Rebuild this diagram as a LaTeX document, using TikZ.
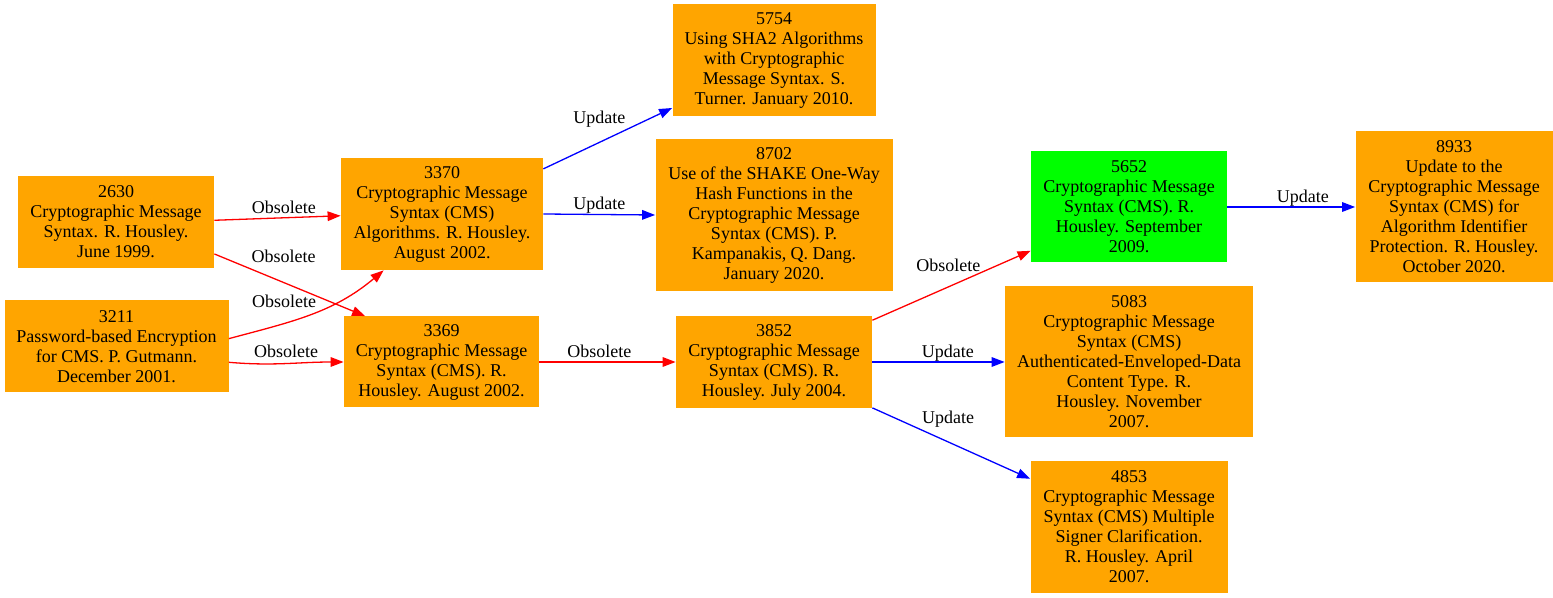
\documentclass[tikz,border=0pt]{standalone}
\usepackage{fontspec}
\setmainfont{Liberation Serif}
\usepackage{tikz}
\usetikzlibrary{arrows.meta,positioning}
\definecolor{rfcorange}{RGB}{255,165,0}
\definecolor{rfcgreen}{RGB}{0,255,0}

\tikzset{
  rfc/.style={fill=rfcorange, align=center, inner sep=0pt, font=\fontsize{9}{10}\selectfont},
  obs/.style={->, red, line width=0.65pt},
  upd/.style={->, blue, line width=0.65pt},
  lbl/.style={font=\fontsize{9}{10}\selectfont, text=black, inner sep=0pt, text height=6.2pt, text depth=2pt}
}

\begin{document}
\begin{tikzpicture}[x=0.5pt, y=-0.5pt, >={Triangle[length=6.5pt, width=4.8pt]}]
  \useasboundingbox (0,0) rectangle (1553,598);
  % left column
  \node[rfc, minimum width=98pt, minimum height=46pt] (n2630) at (116,222) {2630\\Cryptographic Message\\Syntax. R. Housley.\\June 1999.};
  \node[rfc, minimum width=112pt, minimum height=46pt] (n3211) at (116.5,346.5) {3211\\Password-based Encryption\\for CMS. P. Gutmann.\\December 2001.};
  % second column
  \node[rfc, minimum width=101pt, minimum height=56pt] (n3370) at (442,214) {3370\\Cryptographic Message\\Syntax (CMS)\\Algorithms. R. Housley.\\August 2002.};
  \node[rfc, minimum width=97.5pt, minimum height=45.5pt] (n3369) at (441.5,362) {3369\\Cryptographic Message\\Syntax (CMS). R.\\Housley. August 2002.};
  % third column
  \node[rfc, minimum width=101.5pt, minimum height=56pt] (n5754) at (774,60.5) {5754\\Using SHA2 Algorithms\\with Cryptographic\\Message Syntax. S.\\Turner. January 2010.};
  \node[rfc, minimum width=118.5pt, minimum height=76pt] (n8702) at (774,215) {8702\\Use of the SHAKE One-Way\\Hash Functions in the\\Cryptographic Message\\Syntax (CMS). P.\\Kampanakis, Q. Dang.\\January 2020.};
  \node[rfc, minimum width=98pt, minimum height=46pt] (n3852) at (774,362) {3852\\Cryptographic Message\\Syntax (CMS). R.\\Housley. July 2004.};
  % fourth column
  \node[rfc, minimum width=98pt, minimum height=55.5pt, fill=rfcgreen] (n5652) at (1129,207) {5652\\Cryptographic Message\\Syntax (CMS). R.\\Housley. September\\2009.};
  \node[rfc, minimum width=124pt, minimum height=75.5pt] (n5083) at (1129,362) {5083\\Cryptographic Message\\Syntax (CMS)\\Authenticated-Enveloped-Data\\Content Type. R.\\Housley. November\\2007.};
  \node[rfc, minimum width=98.5pt, minimum height=66pt] (n4853) at (1129,527) {4853\\Cryptographic Message\\Syntax (CMS) Multiple\\Signer Clarification.\\R. Housley. April\\2007.};
  % last column
  \node[rfc, minimum width=98.5pt, minimum height=75.5pt] (n8933) at (1454,207) {8933\\Update to the\\Cryptographic Message\\Syntax (CMS) for\\Algorithm Identifier\\Protection. R. Housley.\\October 2020.};

  % edges
  \draw[obs] (n2630.1) -- (n3370.181) node[lbl, pos=0.55, above] (l1) {Obsolete};
  \draw[obs] (n2630.-18) -- (n3369.149) node[lbl, pos=0.46, above=7.9pt] (l2) {Obsolete};
  \draw[obs] (n3211.4) to[out=15, in=220] node[lbl, pos=0.32, above=5.4pt] (l3) {Obsolete} (n3370.224);
  \draw[obs] (n3211.-8) to[out=-5, in=180] node[lbl, pos=0.5, above=0.9pt] (l4) {Obsolete} (n3369.west);
  \draw[upd] (n3370.24) -- (n5754.205) node[lbl, pos=0.435, above=6.9pt] (l5) {Update};
  \draw[upd] (n3370.east) -- (n8702.west) node[lbl, pos=0.5, above] (l6) {Update};
  \draw[obs] (n3369.east) -- (n3852.west) node[lbl, pos=0.44, above] (l7) {Obsolete};
  \draw[obs] (n3852.23) -- (n5652.204) node[lbl, pos=0.48, above=5.4pt] (l8) {Obsolete};
  \draw[upd] (n3852.east) -- (n5083.west) node[lbl, pos=0.57, above] (l9) {Update};
  \draw[upd] (n3852.-25) -- (n4853.154) node[lbl, pos=0.48, above=6.9pt] (l10) {Update};
  \draw[upd] (n5652.east) -- (n8933.west) node[lbl, pos=0.59, above] (l11) {Update};
\end{tikzpicture}
\end{document}
